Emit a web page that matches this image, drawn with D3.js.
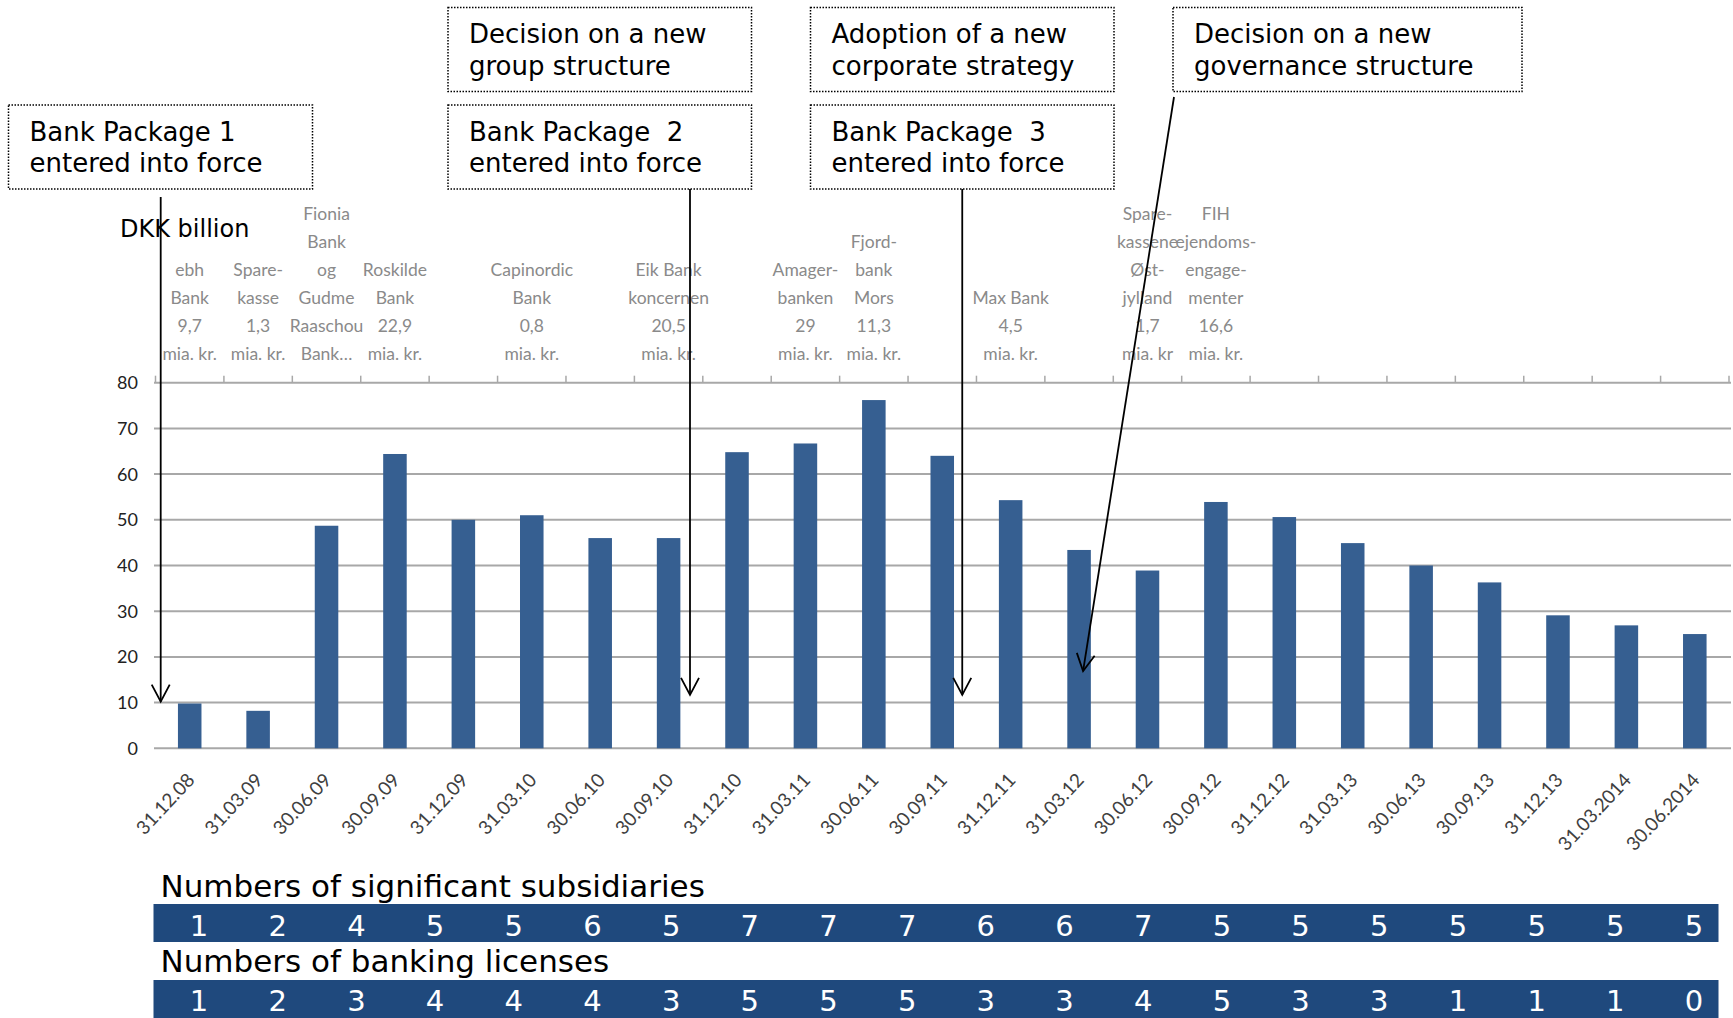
<!DOCTYPE html>
<html>
<head>
<meta charset="utf-8">
<script src="https://cdn.jsdelivr.net/npm/d3@7"></script>
<style>
  html, body { margin: 0; padding: 0; background: #fff; }
  svg { display: block; }
</style>
</head>
<body>
<script>
// Quarter-end dates (category axis)
const dates = [
  "31.12.08", "31.03.09", "30.06.09", "30.09.09", "31.12.09", "31.03.10",
  "30.06.10", "30.09.10", "31.12.10", "31.03.11", "30.06.11", "30.09.11",
  "31.12.11", "31.03.12", "30.06.12", "30.09.12", "31.12.12", "31.03.13",
  "30.06.13", "30.09.13", "31.12.13", "31.03.2014", "30.06.2014"
];
// DKK billion
const values = [
  9.8, 8.2, 48.7, 64.4, 50.0, 51.0, 46.0, 46.0, 64.8, 66.7, 76.2, 64.0,
  54.3, 43.4, 38.9, 53.9, 50.6, 44.9, 40.0, 36.3, 29.1, 26.9, 25.0
];
const yTicks = [0, 10, 20, 30, 40, 50, 60, 70, 80];

// Acquisitions written above the bars
const acquisitions = [
  {date: "31.12.08", lines: ["ebh", "Bank", "9,7", "mia. kr."]},
  {date: "31.03.09", lines: ["Spare-", "kasse", "1,3", "mia. kr."]},
  {date: "30.06.09", lines: ["Fionia", "Bank", "og", "Gudme", "Raaschou", "Bank…"]},
  {date: "30.09.09", lines: ["Roskilde", "Bank", "22,9", "mia. kr."]},
  {date: "31.03.10", lines: ["Capinordic", "Bank", "0,8", "mia. kr."]},
  {date: "30.09.10", lines: ["Eik Bank", "koncernen", "20,5", "mia. kr."]},
  {date: "31.03.11", lines: ["Amager-", "banken", "29", "mia. kr."]},
  {date: "30.06.11", lines: ["Fjord-", "bank", "Mors", "11,3", "mia. kr."]},
  {date: "31.12.11", lines: ["Max Bank", "4,5", "mia. kr."]},
  {date: "30.06.12", lines: ["Spare-", "kassene", "Øst-", "jylland", "1,7", "mia. kr"]},
  {date: "30.09.12", lines: ["FIH", "ejendoms-", "engage-", "menter", "16,6", "mia. kr."]}
];

// Event boxes (layout in px) and the arrows pointing into the chart
const events = [
  {box: [8.5, 105], w: 304, lines: ["Bank Package 1", "entered into force"]},
  {box: [448, 7.5], w: 303.5, lines: ["Decision on a new", "group structure"]},
  {box: [448, 105], w: 303.5, lines: ["Bank Package  2", "entered into force"]},
  {box: [810.5, 7.5], w: 303.5, lines: ["Adoption of a new", "corporate strategy"]},
  {box: [810.5, 105], w: 303.5, lines: ["Bank Package  3", "entered into force"]},
  {box: [1173, 7.5], w: 349, lines: ["Decision on a new", "governance structure"]}
];
// tip = (bar centre of date + dx, value); start = box edge
const arrows = [
  {date: "31.12.08", dx: -29, value: 10.2, startX: null, startY: 197},
  {date: "30.09.10", dx: 21.4, value: 11.7, startX: null, startY: 189},
  {date: "30.09.11", dx: 20, value: 11.7, startX: null, startY: 189},
  {date: "31.03.12", dx: 4, value: 16.9, startX: 1174, startY: 97}
];

// Table rows under the chart
const subsidiaries = [1, 2, 4, 5, 5, 6, 5, 7, 7, 7, 6, 6, 7, 5, 5, 5, 5, 5, 5, 5];
const licenses = [1, 2, 3, 4, 4, 4, 3, 5, 5, 5, 3, 3, 4, 5, 3, 3, 1, 1, 1, 0];

const width = 1733, height = 1018;
const BAR = "#365f91", TABLE = "#1f497d", GRID = "#a8a8a8";
const WIDE = "'DejaVu Sans', Verdana, sans-serif";
const NARROW = "Lato, 'Open Sans', sans-serif";

const svg = d3.select("body").append("svg")
  .attr("width", width).attr("height", height)
  .attr("viewBox", [0, 0, width, height]);

// Scales
const x = d3.scaleBand()
  .domain(dates)
  .range([155.5, 1729])
  .paddingInner(0.656)
  .paddingOuter(0.328);
const y = d3.scaleLinear().domain([0, 80]).range([748.3, 382.7]);
const cx = d => x(d) + x.bandwidth() / 2;

// Gridlines
svg.append("g").selectAll("line")
  .data(yTicks)
  .join("line")
  .attr("x1", 154).attr("x2", 1731)
  .attr("y1", d => y(d)).attr("y2", d => y(d))
  .attr("stroke", GRID).attr("stroke-width", 2);

// Category ticks on the top line
const step = x.step();
svg.append("g").selectAll("line")
  .data(d3.range(dates.length + 1))
  .join("line")
  .attr("x1", i => x.range()[0] + i * step)
  .attr("x2", i => x.range()[0] + i * step)
  .attr("y1", y(80)).attr("y2", y(80) - 7)
  .attr("stroke", GRID).attr("stroke-width", 1.5);

// Y labels
svg.append("g").selectAll("text")
  .data(yTicks)
  .join("text")
  .attr("x", 138).attr("y", d => y(d))
  .attr("dy", "0.36em")
  .attr("text-anchor", "end")
  .style("font", `18px ${NARROW}`)
  .attr("fill", "#222")
  .text(d => d);

svg.append("text")
  .attr("x", 120).attr("y", 236.5)
  .style("font", `24px ${WIDE}`)
  .attr("fill", "#000")
  .text("DKK billion");

// Bars
svg.append("g").selectAll("rect")
  .data(values)
  .join("rect")
  .attr("x", (d, i) => x(dates[i]))
  .attr("y", d => y(d))
  .attr("width", x.bandwidth())
  .attr("height", d => y(0) - y(d))
  .attr("fill", BAR);

// Date labels, rotated
svg.append("g").selectAll("text")
  .data(dates)
  .join("text")
  .attr("transform", d => `translate(${cx(d) + 6},${781}) rotate(-47)`)
  .attr("text-anchor", "end")
  .style("font", `19px ${NARROW}`)
  .attr("fill", "#404040")
  .text(d => d);

// Acquisition labels (bottom-aligned, last line at 360)
const acqG = svg.append("g")
  .style("font", `17.5px ${NARROW}`)
  .attr("fill", "#8a8a8a")
  .attr("text-anchor", "middle");
acquisitions.forEach(a => {
  const n = a.lines.length;
  a.lines.forEach((t, k) => {
    acqG.append("text")
      .attr("x", cx(a.date))
      .attr("y", 360 - (n - 1 - k) * 28)
      .text(t);
  });
});

// Event boxes
const evG = svg.append("g");
events.forEach(e => {
  evG.append("rect")
    .attr("x", e.box[0]).attr("y", e.box[1])
    .attr("width", e.w).attr("height", 84)
    .attr("fill", "#fff")
    .attr("stroke", "#000").attr("stroke-width", 1.5)
    .attr("stroke-dasharray", "1.5,1.5");
  e.lines.forEach((t, k) => {
    evG.append("text")
      .attr("x", e.box[0] + 21)
      .attr("y", e.box[1] + 35.5 + k * 31.5)
      .style("font", `26px ${WIDE}`)
      .style("white-space", "pre")
      .attr("fill", "#000")
      .text(t);
  });
});

// Arrows
const arG = svg.append("g").attr("stroke", "#000").attr("fill", "none");
arrows.forEach(a => {
  const tx = cx(a.date) + a.dx, ty = y(a.value);
  const sx = a.startX == null ? tx : a.startX, sy = a.startY;
  const len = Math.hypot(tx - sx, ty - sy);
  const ux = (tx - sx) / len, uy = (ty - sy) / len;
  const nx = -uy, ny = ux;
  arG.append("line")
    .attr("x1", sx).attr("y1", sy).attr("x2", tx).attr("y2", ty)
    .attr("stroke-width", 1.8);
  arG.append("path")
    .attr("d", d3.line()([
      [tx - 17 * ux + 9 * nx, ty - 17 * uy + 9 * ny],
      [tx, ty],
      [tx - 17 * ux - 9 * nx, ty - 17 * uy - 9 * ny]
    ]))
    .attr("stroke-width", 1.8);
});

// Tables
const col = d3.scalePoint().domain(d3.range(subsidiaries.length)).range([199, 1694]);
const rows = [
  {title: "Numbers of significant subsidiaries", titleY: 897, bandY: 904, numY: 935.5, data: subsidiaries},
  {title: "Numbers of banking licenses", titleY: 972, bandY: 980, numY: 1010.5, data: licenses}
];
rows.forEach(r => {
  svg.append("text")
    .attr("x", 160.5).attr("y", r.titleY)
    .style("font", `31px ${WIDE}`)
    .attr("fill", "#000")
    .text(r.title);
  svg.append("rect")
    .attr("x", 153.5).attr("y", r.bandY)
    .attr("width", 1565).attr("height", 38)
    .attr("fill", TABLE);
  svg.append("g").selectAll("text")
    .data(r.data)
    .join("text")
    .attr("x", (d, i) => col(i))
    .attr("y", r.numY)
    .attr("text-anchor", "middle")
    .style("font", `29px ${WIDE}`)
    .attr("fill", "#fff")
    .text(d => d);
});
</script>
</body>
</html>
